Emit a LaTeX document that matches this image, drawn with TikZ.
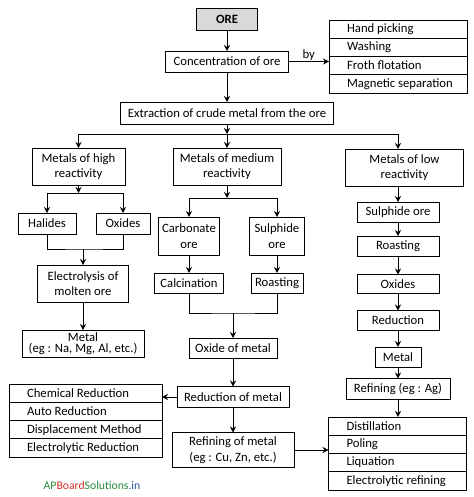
\documentclass[tikz,border=0pt]{standalone}
\usepackage{fontspec}
\setmainfont{Carlito}
\usetikzlibrary{arrows.meta}
\usetikzlibrary{positioning}
\definecolor{apgreen}{RGB}{40,140,60}
\definecolor{apred}{RGB}{210,45,40}
\definecolor{apblue}{RGB}{40,80,160}

\tikzset{
  stage/.style={draw, inner sep=1pt, outer sep=0pt, align=center},
  listrow/.style={draw, outer sep=0pt, inner xsep=0pt, inner ysep=0pt, minimum height=18.25pt, text width=#1, align=flush left, execute at begin node={\hspace*{18pt}}},
  flow/.style={-{Stealth[length=6pt,width=6pt]}}
}

\begin{document}
\begin{tikzpicture}[x=1pt, y=-1pt, line width=0.8pt, font=\fontsize{12.7}{15.5}\selectfont]
	\useasboundingbox (0,0) rectangle (473,497);
	%ore and concentration
	\node[stage, fill=gray!30, minimum width=61pt, minimum height=22pt] (ore) at (227,19) {\bfseries ORE};
	\node[stage, minimum width=123pt, minimum height=21pt] (conc) at (227,61.5) {Concentration of ore};
	\draw[flow] (ore) -- (conc);
	%methods of concentration
	\node[listrow=138pt, anchor=north] (hand) at (398,20) {Hand picking};
	\node[listrow=138pt, below=0pt of hand] (wash) {Washing};
	\node[listrow=138pt, below=0pt of wash] (froth) {Froth flotation};
	\node[listrow=138pt, below=0pt of froth] (magnet) {Magnetic separation};
	\draw[flow] (conc) -- (conc -| froth.west) node[midway, above=-3pt] {by};
	%extraction
	\node[stage, minimum width=213pt, minimum height=22pt] (extr) at (227,113) {Extraction of crude metal from the ore};
	\draw[flow] (conc) -- (extr);
	\coordinate (bar1) at (227,134);
	\draw[flow] (extr) -- (bar1);
	\node[stage, minimum width=93pt, minimum height=37pt] (high) at (78.5,166.5) {Metals of high\\reactivity};
	\node[stage, minimum width=108pt, minimum height=37pt] (med) at (227,166.5) {Metals of medium\\reactivity};
	\node[stage, minimum width=118pt, minimum height=37pt] (low) at (404.5,167.5) {Metals of low\\reactivity};
	\draw[flow] (bar1) -| (high);
	\draw[flow] (bar1) -- (med);
	%high reactivity
	\coordinate (bar2) at (78.5,193);
	\draw[flow] (high) -- (bar2);
	\node[stage, minimum width=58pt, minimum height=21pt] (hal) at (47,223.5) {Halides};
	\node[stage, minimum width=54pt, minimum height=21pt] (oxh) at (123,223.5) {Oxides};
	\draw[flow] (bar2) -| (hal);
	\draw[flow] (bar2) -| (oxh);
	\coordinate (join1) at (83,249);
	\draw (hal) |- (join1) -| (oxh);
	\node[stage, minimum width=91pt, minimum height=37pt] (elec) at (83,283.5) {Electrolysis of\\molten ore};
	\draw[flow] (join1) -- (elec);
	\node[stage, minimum width=122pt, minimum height=27pt] (meth) at (83,343.5) {Metal\\[-4pt](eg : Na, Mg, Al, etc.)};
	\draw[flow] (elec) -- (meth);
	%medium reactivity
	\coordinate (bar3) at (227,198);
	\draw[flow] (med) -- (bar3);
	\node[stage, minimum width=61pt, minimum height=38pt] (carb) at (189,236) {Carbonate\\ore};
	\node[stage, minimum width=55pt, minimum height=38pt] (sulm) at (277,236) {Sulphide\\ore};
	\draw[flow] (bar3) -| (carb);
	\draw[flow] (bar3) -| (sulm);
	\node[stage, minimum width=69pt, minimum height=20pt] (calc) at (189,283) {Calcination};
	\node[stage, minimum width=52pt, minimum height=20pt] (roastm) at (277,283) {Roasting};
	\draw[flow] (carb) -- (calc);
	\draw[flow] (sulm) -- (roastm);
	\coordinate (join2) at (233,313);
	\draw (calc) |- (join2) -| (roastm);
	\node[stage, minimum width=88pt, minimum height=20pt] (oxm) at (233,348) {Oxide of metal};
	\draw[flow] (join2) -- (oxm);
	\node[stage, minimum width=112pt, minimum height=21pt] (redm) at (233,397) {Reduction of metal};
	\draw[flow] (oxm) -- (redm);
	\node[stage, minimum width=122pt, minimum height=35pt] (refm) at (233,450) {Refining of metal\\(eg : Cu, Zn, etc.)};
	\draw[flow] (redm) -- (refm);
	%methods of reduction
	\node[listrow=153pt, anchor=north] (chem) at (85.5,384) {Chemical Reduction};
	\node[listrow=153pt, below=0pt of chem] (auto) {Auto Reduction};
	\node[listrow=153pt, below=0pt of auto] (displ) {Displacement Method};
	\node[listrow=153pt, below=0pt of displ] (elred) {Electrolytic Reduction};
	\draw[flow] (redm) -- (redm -| chem.east);
	%low reactivity
	\node[stage, minimum width=82pt, minimum height=20pt] (sulo) at (398,212) {Sulphide ore};
	\node[stage, minimum width=82pt, minimum height=20pt] (roasto) at (398,246) {Roasting};
	\node[stage, minimum width=82pt, minimum height=19pt] (oxo) at (398,284) {Oxides};
	\node[stage, minimum width=82pt, minimum height=20pt] (redo) at (398,320.5) {Reduction};
	\node[stage, minimum width=46pt, minimum height=20pt] (meto) at (398,357) {Metal};
	\node[stage, minimum width=104pt, minimum height=21pt] (refo) at (398,389) {Refining (eg : Ag)};
	\draw[flow] (bar1) -| (low.north -| sulo.north);
	\draw[flow] (low.south -| sulo.north) -- (sulo);
	\draw[flow] (sulo) -- (roasto);
	\draw[flow] (roasto) -- (oxo);
	\draw[flow] (oxo) -- (redo);
	\draw[flow] (redo) -- (meto);
	\draw[flow] (meto) -- (refo);
	%methods of refining
	\node[listrow=138pt, anchor=north] (dist) at (397.5,417) {Distillation};
	\node[listrow=138pt, below=0pt of dist] (poling) {Poling};
	\node[listrow=138pt, below=0pt of poling] (liq) {Liquation};
	\node[listrow=138pt, below=0pt of liq] (elref) {Electrolytic refining};
	\draw[flow] (refo) -- (refo |- dist.north);
	\draw[flow] (refm) -- (refm -| poling.west);
	%site name
	\node[font=\fontsize{11.7}{14}\selectfont] (site) at (92,485) {\textcolor{apgreen}{AP}\textcolor{apred}{Board}\textcolor{apgreen}{Solutions}\textcolor{apblue}{.in}};
\end{tikzpicture}
\end{document}
